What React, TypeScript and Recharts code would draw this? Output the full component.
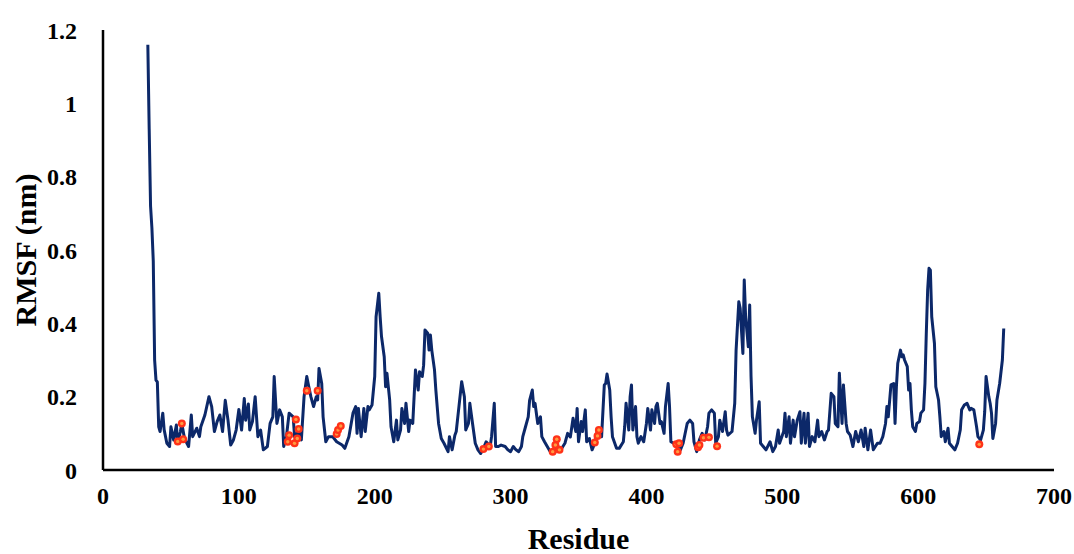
import React from 'react';
import { ComposedChart, Line, Scatter, XAxis, YAxis } from 'recharts';

const residues = [
  33, 34, 35, 36, 37, 38, 39, 40, 41, 42, 44, 45, 47, 49, 50, 52, 54, 55, 57, 58,
  60, 63, 65, 66, 69, 71, 72, 75, 78, 80, 82, 84, 86, 88, 90, 92, 94, 96, 98, 100,
  102, 104, 105, 107, 108, 110, 112, 114, 116, 118, 121, 123, 125, 126, 128, 129, 130, 132, 133, 135,
  137, 140, 141, 144, 146, 148, 150, 151, 153, 155, 157, 158, 159, 161, 162, 164, 166, 169, 172, 176,
  178, 181, 184, 186, 187, 188, 190, 192, 193, 195, 196, 198, 200, 201, 203, 204, 205, 207, 208, 209,
  211, 212, 214, 216, 217, 219, 220, 222, 223, 225, 226, 228, 230, 232, 233, 235, 236, 237, 239, 240,
  241, 242, 244, 245, 247, 249, 251, 254, 255, 257, 259, 260, 262, 264, 266, 267, 269, 270, 272, 274,
  276, 278, 280, 282, 285, 286, 288, 289, 291, 293, 296, 298, 300, 302, 304, 306, 308, 309, 311, 313,
  314, 316, 317, 318, 320, 322, 323, 325, 327, 330, 333, 335, 337, 340, 342, 344, 346, 348, 349, 350,
  352, 353, 355, 356, 358, 360, 362, 364, 367, 369, 370, 371, 373, 374, 375, 378, 380, 383, 384, 385,
  387, 388, 389, 390, 392, 393, 394, 396, 398, 400, 401, 403, 404, 406, 407, 408, 410, 411, 413, 414,
  416, 417, 418, 420, 422, 425, 427, 430, 432, 434, 435, 437, 439, 441, 443, 445, 446, 448, 450, 451,
  453, 454, 456, 458, 459, 460, 463, 465, 466, 468, 469, 471, 472, 473, 475, 476, 477, 478, 480, 481,
  483, 484, 486, 488, 491, 493, 495, 497, 498, 501, 502, 503, 505, 506, 508, 509, 511, 513, 514, 516,
  517, 519, 520, 522, 524, 526, 527, 529, 531, 533, 534, 536, 538, 539, 541, 542, 544, 545, 547, 548,
  550, 552, 554, 556, 558, 560, 561, 563, 565, 567, 570, 572, 574, 576, 577, 578, 580, 582, 583, 584,
  585, 587, 588, 589, 590, 592, 593, 594, 595, 596, 598, 599, 601, 602, 604, 605, 606, 607, 608, 609,
  610, 612, 613, 615, 616, 617, 619, 620, 622, 623, 625, 627, 629, 631, 632, 634, 636, 638, 639, 641,
  643, 644, 646, 648, 649, 650, 652, 653, 654, 655, 657, 658, 660, 662, 663,
];

const rmsfValues = [
  1.16, 0.93, 0.72, 0.66, 0.57, 0.3, 0.245, 0.24, 0.118, 0.105, 0.155, 0.11, 0.073, 0.064, 0.118, 0.082, 0.123, 0.073, 0.105, 0.127,
  0.086, 0.064, 0.15, 0.091, 0.114, 0.091, 0.118, 0.15, 0.2, 0.173, 0.105, 0.132, 0.15, 0.105, 0.19, 0.136, 0.068, 0.082, 0.109, 0.165,
  0.109, 0.195, 0.136, 0.18, 0.109, 0.132, 0.2, 0.091, 0.109, 0.055, 0.064, 0.127, 0.145, 0.255, 0.127, 0.145, 0.164, 0.145, 0.064, 0.091,
  0.155, 0.145, 0.091, 0.105, 0.082, 0.2, 0.255, 0.236, 0.2, 0.173, 0.2, 0.191, 0.277, 0.236, 0.145, 0.077, 0.091, 0.091, 0.077, 0.068,
  0.059, 0.091, 0.155, 0.173, 0.1, 0.168, 0.091, 0.168, 0.105, 0.173, 0.164, 0.177, 0.255, 0.418, 0.482, 0.418, 0.364, 0.309, 0.227, 0.264,
  0.191, 0.118, 0.077, 0.136, 0.082, 0.109, 0.168, 0.127, 0.182, 0.105, 0.136, 0.127, 0.273, 0.218, 0.268, 0.255, 0.286, 0.382, 0.373, 0.327,
  0.368, 0.327, 0.273, 0.218, 0.127, 0.086, 0.073, 0.05, 0.091, 0.055, 0.095, 0.105, 0.173, 0.241, 0.2, 0.109, 0.127, 0.182, 0.127, 0.073,
  0.055, 0.045, 0.059, 0.077, 0.064, 0.091, 0.182, 0.064, 0.064, 0.068, 0.064, 0.055, 0.05, 0.064, 0.055, 0.05, 0.064, 0.091, 0.118, 0.145,
  0.19, 0.218, 0.173, 0.182, 0.127, 0.145, 0.091, 0.077, 0.064, 0.045, 0.05, 0.064, 0.055, 0.073, 0.1, 0.09, 0.141, 0.105, 0.168, 0.077,
  0.132, 0.105, 0.164, 0.077, 0.086, 0.055, 0.073, 0.109, 0.091, 0.232, 0.236, 0.262, 0.218, 0.145, 0.091, 0.059, 0.059, 0.077, 0.118, 0.182,
  0.109, 0.2, 0.232, 0.109, 0.173, 0.091, 0.073, 0.091, 0.077, 0.127, 0.168, 0.109, 0.164, 0.127, 0.173, 0.182, 0.127, 0.132, 0.1, 0.173,
  0.236, 0.173, 0.077, 0.073, 0.064, 0.055, 0.073, 0.127, 0.136, 0.127, 0.077, 0.05, 0.082, 0.1, 0.082, 0.118, 0.155, 0.164, 0.155, 0.073,
  0.091, 0.136, 0.105, 0.159, 0.109, 0.095, 0.105, 0.182, 0.327, 0.459, 0.441, 0.318, 0.518, 0.418, 0.336, 0.45, 0.255, 0.145, 0.1, 0.136,
  0.186, 0.073, 0.064, 0.055, 0.077, 0.05, 0.064, 0.109, 0.073, 0.105, 0.155, 0.091, 0.145, 0.073, 0.136, 0.091, 0.136, 0.159, 0.073, 0.155,
  0.073, 0.155, 0.064, 0.091, 0.077, 0.136, 0.091, 0.105, 0.082, 0.105, 0.109, 0.209, 0.2, 0.127, 0.118, 0.264, 0.127, 0.232, 0.127, 0.105,
  0.095, 0.064, 0.105, 0.077, 0.109, 0.064, 0.114, 0.055, 0.109, 0.055, 0.073, 0.073, 0.091, 0.127, 0.173, 0.145, 0.232, 0.236, 0.127, 0.227,
  0.291, 0.327, 0.309, 0.314, 0.3, 0.282, 0.218, 0.236, 0.164, 0.118, 0.105, 0.127, 0.132, 0.155, 0.164, 0.236, 0.373, 0.491, 0.55, 0.545,
  0.418, 0.345, 0.227, 0.191, 0.145, 0.091, 0.105, 0.077, 0.114, 0.073, 0.064, 0.055, 0.073, 0.109, 0.164, 0.177, 0.182, 0.164, 0.168, 0.164,
  0.118, 0.091, 0.082, 0.109, 0.159, 0.255, 0.2, 0.182, 0.155, 0.086, 0.127, 0.191, 0.236, 0.3, 0.386,
];

const siteResidues = [55, 58, 59, 136, 137, 141, 142, 143, 144, 150, 158, 172, 173, 175, 280, 284, 331, 333, 334, 336, 362, 364, 365, 422, 423, 424, 438, 439, 442, 446, 452, 645];
const siteValues = [0.078, 0.127, 0.084, 0.077, 0.095, 0.073, 0.138, 0.086, 0.112, 0.216, 0.216, 0.098, 0.109, 0.12, 0.057, 0.064, 0.05, 0.068, 0.084, 0.055, 0.075, 0.093, 0.109, 0.07, 0.05, 0.073, 0.062, 0.068, 0.088, 0.089, 0.065, 0.07];

const xTicks = [0, 100, 200, 300, 400, 500, 600, 700];
const yTicks = [0, 0.2, 0.4, 0.6, 0.8, 1, 1.2];
const yTickLabels = ['0', '0.2', '0.4', '0.6', '0.8', '1', '1.2'];

const lineData = residues.map((r, i) => ({ residue: r, rmsf: rmsfValues[i] }));
const siteData = siteResidues.map((r, i) => ({ residue: r, rmsf: siteValues[i] }));

const FONT = "'Liberation Serif', 'Times New Roman', serif";
const tickStyle = { fontFamily: FONT, fontWeight: 700, fontSize: 24, fill: '#000' };

const SiteDot = (props: any) => {
  const { cx, cy } = props;
  if (cx == null || cy == null) return null;
  return (
    <g>
      <circle cx={cx} cy={cy} r={4} fill="#ff3218" />
      <circle cx={cx} cy={cy} r={1.7} fill="#ff9a40" />
    </g>
  );
};

export default function App() {
  return (
    <div style={{ width: 1074, height: 554, background: '#fff' }}>
      <style>{`body{margin:0;background:#fff}`}</style>
      <ComposedChart width={1074} height={554} margin={{ top: 30, right: 20, bottom: 0, left: 0 }}>
        <XAxis
          type="number"
          dataKey="residue"
          domain={[0, 700]}
          ticks={xTicks}
          interval={0}
          height={84}
          tickLine={false}
          tickSize={0}
          tickMargin={17}
          axisLine={{ stroke: '#000', strokeWidth: 2.5 }}
          tick={tickStyle}
          allowDuplicatedCategory={false}
          label={(p: any) => {
            const vb = p.viewBox || {};
            return (
              <text
                x={vb.x + vb.width / 2}
                y={vb.y + 79}
                textAnchor="middle"
                style={{ fontFamily: FONT, fontWeight: 700, fontSize: 30, fill: '#000' }}
              >
                Residue
              </text>
            );
          }}
        />
        <YAxis
          type="number"
          domain={[0, 1.2]}
          ticks={yTicks}
          interval={0}
          width={103}
          tickLine={false}
          tickSize={0}
          tickMargin={26}
          axisLine={{ stroke: '#000', strokeWidth: 2.5 }}
          tick={tickStyle}
          tickFormatter={(v: number) => yTickLabels[yTicks.indexOf(v)] ?? String(v)}
          label={(p: any) => {
            const vb = p.viewBox || {};
            const cx = 25;
            const cy = vb.y + vb.height / 2;
            return (
              <text
                x={cx}
                y={cy}
                textAnchor="middle"
                dominantBaseline="central"
                transform={`rotate(-90 ${cx} ${cy})`}
                style={{ fontFamily: FONT, fontWeight: 700, fontSize: 30, fill: '#000' }}
              >
                RMSF (nm)
              </text>
            );
          }}
        />
        <Line
          data={lineData}
          dataKey="rmsf"
          type="linear"
          stroke="#0c2869"
          strokeWidth={3}
          dot={false}
          activeDot={false}
          isAnimationActive={false}
          strokeLinejoin="round"
        />
        <Scatter
          data={siteData}
          dataKey="rmsf"
          shape={SiteDot}
          isAnimationActive={false}
        />
      </ComposedChart>
    </div>
  );
}
